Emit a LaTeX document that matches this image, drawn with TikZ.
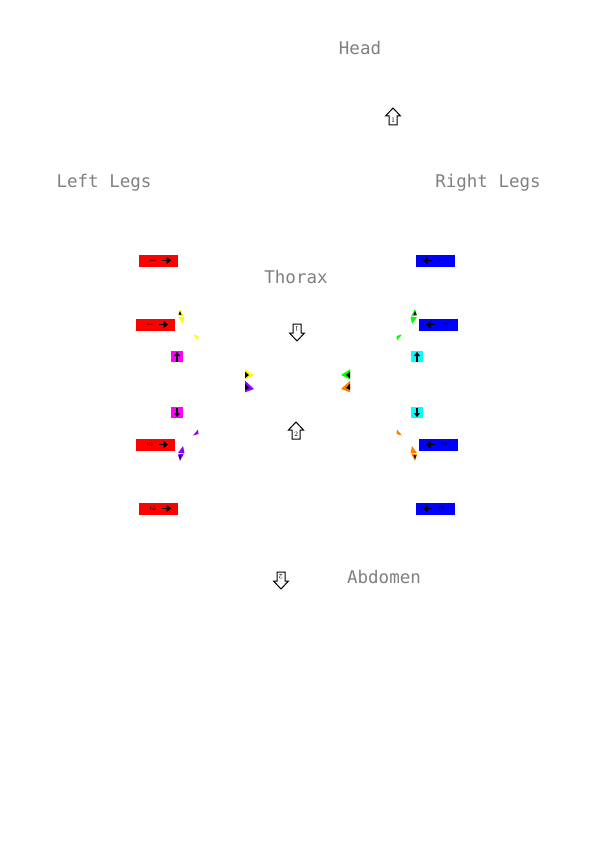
\documentclass[tikz,border=0pt]{standalone}
\usepackage{fontspec}
\newfontfamily\pixelfont{DejaVu Sans Mono}
\usetikzlibrary{arrows.meta}

\definecolor{labelgray}{RGB}{128,128,128}
\definecolor{legred}{RGB}{255,0,0}
\definecolor{legblue}{RGB}{0,0,255}
\definecolor{padmagenta}{RGB}{255,0,255}
\definecolor{padcyan}{RGB}{0,255,255}
\definecolor{jointyellow}{RGB}{255,255,0}
\definecolor{jointgreen}{RGB}{0,255,0}
\definecolor{jointpurple}{RGB}{140,0,255}
\definecolor{jointorange}{RGB}{255,128,0}

\tikzset{
  partlabel/.style={text=labelgray, font=\pixelfont\fontsize{17.5}{17.5}\selectfont, inner sep=0pt, anchor=base},
  legbox/.style={minimum width=39pt, minimum height=12pt, inner sep=0pt},
  padbox/.style={minimum width=12pt, minimum height=11pt, inner sep=0pt},
  tinydigit/.style={font=\fontsize{8}{8}\selectfont, inner sep=0pt},
  arrowdigit/.style={font=\fontsize{7}{7}\selectfont, inner sep=0pt},
  boxarrow/.style={line width=1.8pt, -{Triangle[length=4.5pt,width=7pt]}},
  padarrow/.style={line width=1.5pt, -{Triangle[length=4pt,width=6pt]}},
  % pics do not take over the picture's yscale, so y points up in here
  hollowarrow/.pic={
    \draw[line width=1pt, fill=white] (0,9) -- (7.5,1) -- (4,1) -- (4,-8) -- (-4,-8) -- (-4,1) -- (-7.5,1) -- cycle;
  },
  legjoints/.pic={
    % joint near the leg box
    \fill[#1] (-117.5,76) -- (-119.5,69.5) -- (-113.5,68.5) -- cycle;
    \fill[black] (-117.5,74) -- (-119,70.5) -- (-116,70) -- cycle;
    \fill[#1] (-119.5,68) -- (-113,68) -- (-114.5,61) -- cycle;
    % joint towards the thorax
    \fill[#1] (-104.5,50.5) -- (-99,49) -- (-99.5,44.5) -- cycle;
  }
}

\begin{document}
\begin{tikzpicture}[x=1pt,y=1pt,yscale=-1]
  \fill[white] (0,0) rectangle (595,842);
  \useasboundingbox (0,0) rectangle (595,842);

  % Text Node
  \node[partlabel] (head) at (360,55) {Head};
  % Text Node
  \node[partlabel] (leftlegs) at (104,188) {Left Legs};
  % Text Node
  \node[partlabel] (rightlegs) at (488,188) {Right Legs};
  % Text Node
  \node[partlabel] (thorax) at (296,283) {Thorax};
  % Text Node
  \node[partlabel] (abdomen) at (384,583) {Abdomen};

  %Shape: Arrow head
  \pic at (393,117) {hollowarrow};
  \node[arrowdigit] (headnum) at (393,120) {1};
  %Shape: Arrow thorax
  \pic[rotate=180] at (297,332) {hollowarrow};
  \node[arrowdigit, rotate=180] (thoraxnum) at (297,329) {1};
  %Shape: Arrow thorax 2
  \pic at (296,431) {hollowarrow};
  \node[arrowdigit] (thoraxnumb) at (296,434) {2};
  %Shape: Arrow abdomen
  \pic[rotate=180] at (281,580) {hollowarrow};
  \node[arrowdigit, rotate=180] (abdomennum) at (281,577) {2};

  %Shape: Left leg boxes
  \node[legbox, fill=legred] (leftleg1) at (158.5,260.5) {};
  \node[tinydigit, rotate=-90] (leftnum1) at (153,260.5) {1};
  \draw[boxarrow] (162,260.5) -- (171,260.5);
  \node[legbox, fill=legred] (leftleg2) at (155.5,324.5) {};
  \node[tinydigit, rotate=-90] (leftnum2) at (150,324.5) {1};
  \draw[boxarrow] (159,324.5) -- (168,324.5);
  \node[legbox, fill=legred] (leftleg3) at (155.5,444.5) {};
  \node[tinydigit, rotate=-90] (leftnum3) at (150,444.5) {2};
  \draw[boxarrow] (159,444.5) -- (168,444.5);
  \node[legbox, fill=legred] (leftleg4) at (158.5,508.5) {};
  \node[tinydigit, rotate=-90] (leftnum4) at (153,508.5) {2};
  \draw[boxarrow] (162,508.5) -- (171,508.5);

  %Shape: Right leg boxes
  \node[legbox, fill=legblue] (rightleg1) at (435.5,260.5) {};
  \node[tinydigit, rotate=90] (rightnum1) at (441,260.5) {1};
  \draw[boxarrow] (432,260.5) -- (423,260.5);
  \node[legbox, fill=legblue] (rightleg2) at (438.5,324.5) {};
  \node[tinydigit, rotate=90] (rightnum2) at (444,324.5) {1};
  \draw[boxarrow] (435,324.5) -- (426,324.5);
  \node[legbox, fill=legblue] (rightleg3) at (438.5,444.5) {};
  \node[tinydigit, rotate=90] (rightnum3) at (444,444.5) {2};
  \draw[boxarrow] (435,444.5) -- (426,444.5);
  \node[legbox, fill=legblue] (rightleg4) at (435.5,508.5) {};
  \node[tinydigit, rotate=90] (rightnum4) at (441,508.5) {2};
  \draw[boxarrow] (432,508.5) -- (423,508.5);

  %Shape: Pads
  \node[padbox, fill=padmagenta] (leftpadup) at (177,356.5) {};
  \draw[padarrow] (177,361.5) -- (177,352);
  \node[padbox, fill=padmagenta] (leftpaddown) at (177,412.5) {};
  \draw[padarrow] (177,407.5) -- (177,417);
  \node[padbox, fill=padcyan] (rightpadup) at (417,356.5) {};
  \draw[padarrow] (417,361.5) -- (417,352);
  \node[padbox, fill=padcyan] (rightpaddown) at (417,412.5) {};
  \draw[padarrow] (417,407.5) -- (417,417);

  %Shape: Leg joints
  \pic at (297.5,385) {legjoints=jointyellow};
  \pic[xscale=-1] at (297.5,385) {legjoints=jointgreen};
  \pic[yscale=-1] at (297.5,385) {legjoints=jointpurple};
  \pic[xscale=-1,yscale=-1] at (297.5,385) {legjoints=jointorange};

  %Shape: Thorax joints
  \fill[jointyellow] (245,369.3) -- (254,375) -- (245,379.5) -- cycle;
  \fill[black] (245,371.7) -- (249,375) -- (245,378.3) -- cycle;
  \fill[jointpurple] (245,380.7) -- (254,389) -- (245,392.3) -- cycle;
  \fill[black] (245,383.5) -- (249,388) -- (245,390) -- cycle;
  \fill[jointgreen] (350,369.3) -- (341,375) -- (350,379.5) -- cycle;
  \fill[black] (350,371.7) -- (346,375) -- (350,378.3) -- cycle;
  \fill[jointorange] (350,380.7) -- (341,389) -- (350,392.3) -- cycle;
  \fill[black] (350,383.5) -- (346,388) -- (350,390) -- cycle;
\end{tikzpicture}
\end{document}
